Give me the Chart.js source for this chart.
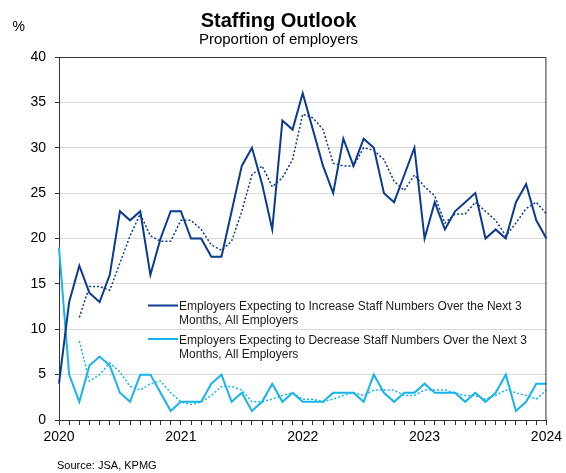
<!DOCTYPE html>
<html lang="en">
<head>
  <meta charset="UTF-8">
  <title>Staffing Outlook</title>
  <script src="https://cdn.jsdelivr.net/npm/chart.js"></script>
  <style>
    html, body { margin: 0; padding: 0; background: #fff; }
    #wrap { width: 566px; height: 473px; }
  </style>
</head>
<body>
  <div id="wrap"><canvas id="staffChart" width="566" height="473"></canvas></div>

  <script>
    // monthly, Jan 2020 .. Jan 2024
    const years = ["2020", "2021", "2022", "2023", "2024"];

    const increase = [4, 13, 17, 14, 13, 16, 23, 22, 23, 16, 20, 23,
                      23, 20, 20, 18, 18, 23, 28, 30, 26, 21, 33, 32,
                      36, 32, 28, 25, 31, 28, 31, 30, 25, 24, 27, 30,
                      20, 24, 21, 23, 24, 25, 20, 21, 20, 24, 26, 22,
                      20];
    const decrease = [19, 5, 2, 6, 7, 6, 3, 2, 5, 5, 3, 1,
                      2, 2, 2, 4, 5, 2, 3, 1, 2, 4, 2, 3,
                      2, 2, 2, 3, 3, 3, 2, 5, 3, 2, 3, 3,
                      4, 3, 3, 3, 2, 3, 2, 3, 5, 1, 2, 4,
                      4];
    // dotted trend lines
    const increaseAvg = [null, null, 11.3, 14.7, 14.7, 14.3, 17.3, 20.3, 22.7, 20.3, 19.7, 19.7,
                         22, 22, 21, 19.3, 18.7, 19.7, 23, 27, 28, 25.7, 26.7, 28.7,
                         33.7, 33.3, 32, 28.3, 28, 28, 30, 29.7, 28.7, 26.3, 25.3, 27,
                         25.7, 24.7, 21.7, 22.7, 22.7, 24, 23, 22, 20.3, 21.7, 23.3, 24,
                         22.7];
    const decreaseAvg = [null, null, 8.7, 4.3, 5, 6.3, 5.3, 3.7, 3.3, 4, 4.3, 3,
                         2, 1.7, 2, 2.7, 3.7, 3.7, 3.3, 2, 2, 2.3, 2.7, 3,
                         2.3, 2.3, 2, 2.3, 2.7, 3, 2.7, 3.3, 3.3, 3.3, 2.7, 2.7,
                         3.3, 3.3, 3.3, 3, 2.7, 2.7, 2.3, 2.7, 3.3, 3, 2.7, 2.3,
                         3.3];

    const legendLabels = [
      ["Employers Expecting to Increase Staff Numbers Over the Next 3", "Months, All Employers"],
      ["Employers Expecting to Decrease Staff Numbers Over the Next 3", "Months, All Employers"]
    ];

    const dark = "#0b3a8f";
    const light = "#16b4ec";
    const axisColor = "#333";
    const font = "'Liberation Sans', Arial, sans-serif";

    const labels = [];
    years.forEach((y, i) => {
      const n = i === years.length - 1 ? 1 : 12;
      for (let m = 0; m < n; m++) labels.push(m === 0 ? y : "");
    });

    const decor = {
      id: "decor",
      afterDraw(chart) {
        const ctx = chart.ctx;
        const a = chart.chartArea;
        ctx.save();
        // top and right frame
        ctx.strokeStyle = axisColor;
        ctx.lineWidth = 1;
        ctx.beginPath();
        ctx.moveTo(a.left, a.top + 0.5);
        ctx.lineTo(a.right - 0.5, a.top + 0.5);
        ctx.lineTo(a.right - 0.5, a.bottom);
        ctx.stroke();

        ctx.fillStyle = "#000";
        ctx.textAlign = "center";
        ctx.textBaseline = "alphabetic";
        ctx.font = "bold 20px " + font;
        ctx.fillText("Staffing Outlook", 278.5, 27);
        ctx.font = "15px " + font;
        ctx.fillText("Proportion of employers", 278.5, 44);

        ctx.textAlign = "left";
        ctx.font = "14px " + font;
        ctx.fillText("%", 12.5, 30.5);
        ctx.font = "11px " + font;
        ctx.fillText("Source: JSA, KPMG", 57, 469);

        // legend
        const colors = [dark, light];
        const tops = [310, 343.5];
        ctx.font = "12px " + font;
        ctx.fillStyle = "#1a1a1a";
        legendLabels.forEach((lines, k) => {
          ctx.strokeStyle = colors[k];
          ctx.lineWidth = 2;
          ctx.beginPath();
          ctx.moveTo(148, tops[k] - 4.5);
          ctx.lineTo(178, tops[k] - 4.5);
          ctx.stroke();
          lines.forEach((t, j) => ctx.fillText(t, 179, tops[k] + j * 14));
        });
        ctx.restore();
      }
    };

    new Chart(document.getElementById("staffChart"), {
      type: "line",
      data: {
        labels,
        datasets: [
          { data: increase, borderColor: dark, borderWidth: 2 },
          { data: decrease, borderColor: light, borderWidth: 2 },
          { data: increaseAvg, borderColor: dark, borderWidth: 1.5, borderDash: [2, 2] },
          { data: decreaseAvg, borderColor: light, borderWidth: 1.5, borderDash: [2, 2] }
        ]
      },
      options: {
        responsive: false,
        animation: false,
        devicePixelRatio: 1,
        layout: { padding: { top: 57, right: 19 } },
        elements: {
          point: { radius: 0 },
          line: { tension: 0, fill: false }
        },
        plugins: {
          legend: { display: false },
          tooltip: { enabled: false }
        },
        scales: {
          x: {
            afterFit(scale) { scale.height = 53; },
            grid: { drawOnChartArea: false, tickLength: 5, tickColor: axisColor, color: axisColor, lineWidth: 1 },
            border: { color: axisColor, width: 1 },
            ticks: {
              autoSkip: false,
              maxRotation: 0,
              padding: 4,
              color: "#000",
              font: { family: font, size: 14 }
            }
          },
          y: {
            min: 0,
            max: 40,
            afterFit(scale) { scale.width = 59; },
            grid: { color: "#d9d9d9", tickLength: 4, tickColor: axisColor },
            border: { color: axisColor, width: 1 },
            ticks: {
              stepSize: 5,
              padding: 9,
              color: "#000",
              font: { family: font, size: 14 }
            }
          }
        }
      },
      plugins: [decor]
    });
  </script>
</body>
</html>
